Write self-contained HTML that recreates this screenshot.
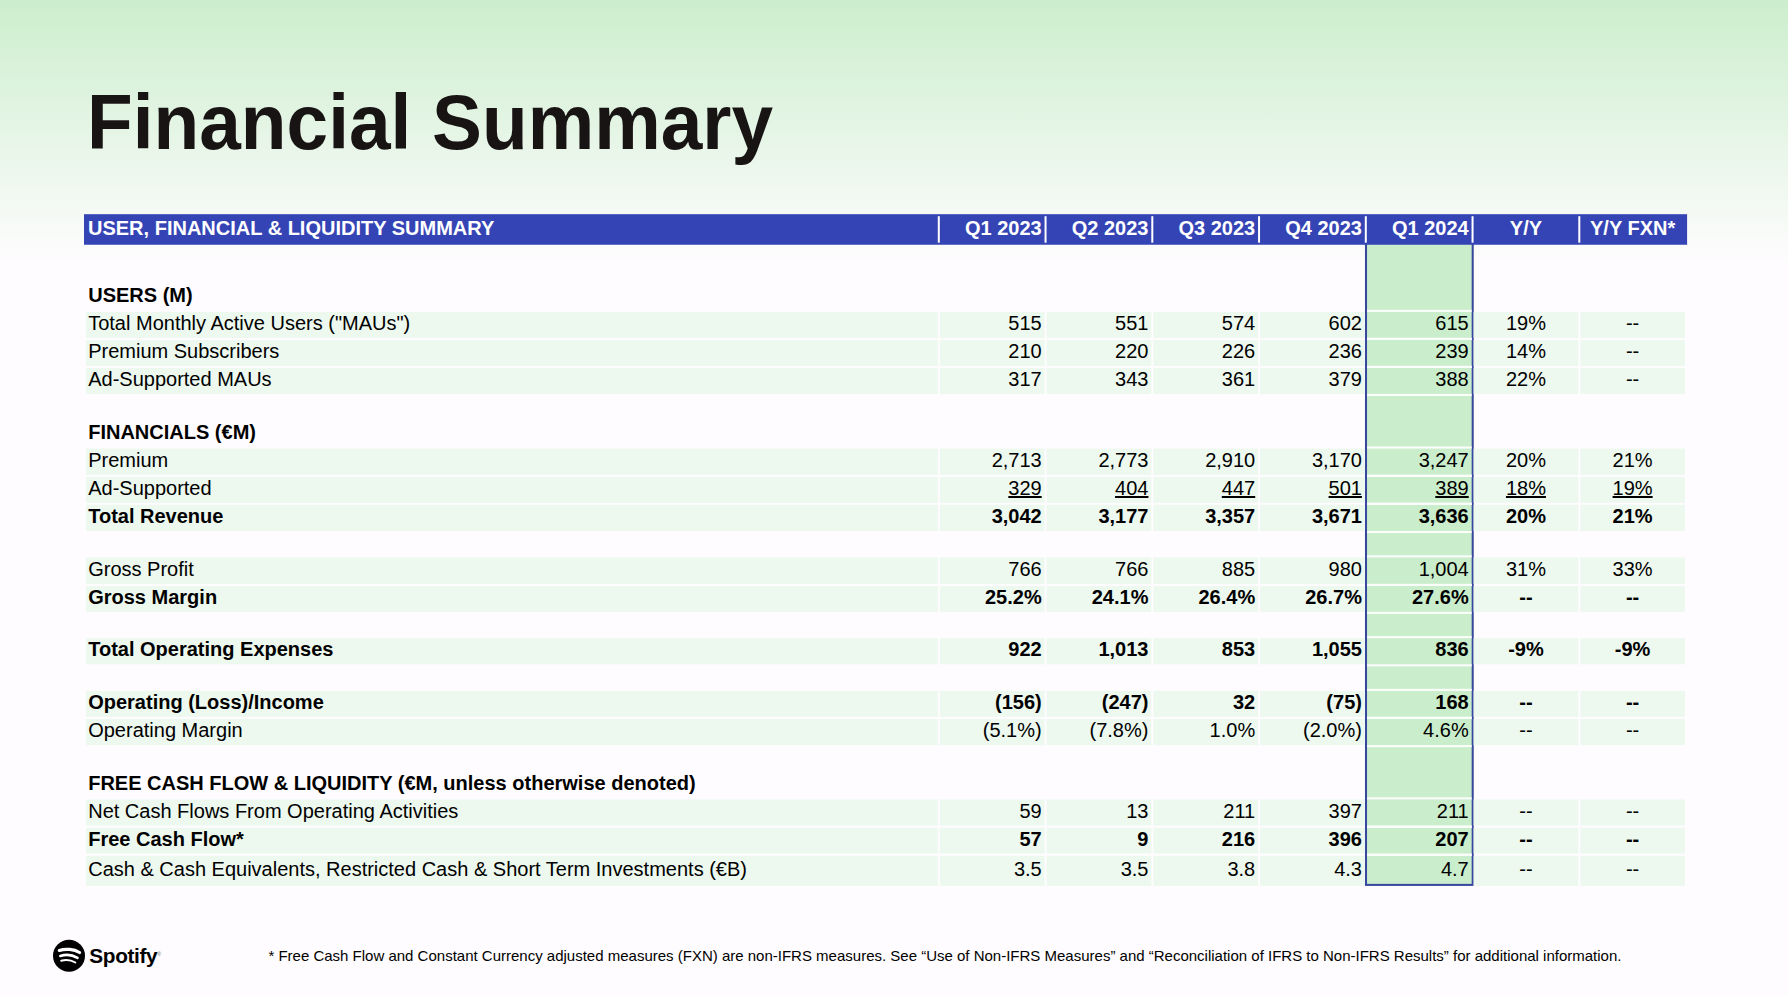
<!DOCTYPE html>
<html lang="en">
<head>
<meta charset="utf-8">
<title>Financial Summary</title>
<style>
html,body{margin:0;padding:0}
body{width:1788px;height:996px;position:relative;overflow:hidden;background:#fefcfe;font-family:"Liberation Sans",Arial,sans-serif;color:#000}
#art{position:absolute;left:0;top:0;width:1788px;height:996px}
h1{position:absolute;left:87.1px;top:80.4px;margin:0;font-size:74.8px;line-height:86px;font-weight:bold;color:#191414;white-space:nowrap;transform-origin:0 68px;transform:scaleY(1.045)}
.t{position:absolute;font-size:20px;line-height:22px;height:22px;white-space:nowrap}
.l{left:88.2px}
.n{text-align:right}
.m{text-align:center}
.b{font-weight:bold}
.w{color:#fff;font-weight:bold}
.u{text-decoration:underline;text-decoration-thickness:2px;text-underline-offset:1px;text-decoration-skip-ink:none}
.foot{position:absolute;left:268.4px;top:947px;font-size:15px;line-height:17px;white-space:nowrap;color:#000}
.logot{position:absolute;left:89.3px;top:943.9px;font-size:20.8px;line-height:23px;font-weight:bold;letter-spacing:-0.35px;color:#000;white-space:nowrap}
.reg{position:absolute;left:157.3px;top:952px;font-size:5px;line-height:5px;color:#666}
</style>
</head>
<body>
<svg id="art" viewBox="0 0 1788 996" width="1788" height="996">
<defs><linearGradient id="gr" x1="0" y1="0" x2="0" y2="1"><stop offset="0" stop-color="#cceecd"/><stop offset="1" stop-color="#fefcfe"/></linearGradient></defs>
<rect x="0" y="0" width="1788" height="262" fill="url(#gr)"/>
<rect x="1366" y="240" width="106.7" height="644.9" fill="#caedcb" stroke="#38489e" stroke-width="2.05"/>
<rect x="1367.03" y="309.8" width="104.65" height="2.1" fill="#fbfdfb"/>
<rect x="1367.03" y="337.9" width="104.65" height="2.1" fill="#fbfdfb"/>
<rect x="86" y="311.9" width="851.85" height="26" fill="#edf8ee"/>
<rect x="939.85" y="311.9" width="104.75" height="26" fill="#edf8ee"/>
<rect x="1046.6" y="311.9" width="104.75" height="26" fill="#edf8ee"/>
<rect x="1153.35" y="311.9" width="104.75" height="26" fill="#edf8ee"/>
<rect x="1260.1" y="311.9" width="104.75" height="26" fill="#edf8ee"/>
<rect x="1473.6" y="311.9" width="104.75" height="26" fill="#edf8ee"/>
<rect x="1580.35" y="311.9" width="104.55" height="26" fill="#edf8ee"/>
<rect x="1367.03" y="337.8" width="104.65" height="2.1" fill="#fbfdfb"/>
<rect x="1367.03" y="365.9" width="104.65" height="2.1" fill="#fbfdfb"/>
<rect x="86" y="339.9" width="851.85" height="26" fill="#edf8ee"/>
<rect x="939.85" y="339.9" width="104.75" height="26" fill="#edf8ee"/>
<rect x="1046.6" y="339.9" width="104.75" height="26" fill="#edf8ee"/>
<rect x="1153.35" y="339.9" width="104.75" height="26" fill="#edf8ee"/>
<rect x="1260.1" y="339.9" width="104.75" height="26" fill="#edf8ee"/>
<rect x="1473.6" y="339.9" width="104.75" height="26" fill="#edf8ee"/>
<rect x="1580.35" y="339.9" width="104.55" height="26" fill="#edf8ee"/>
<rect x="1367.03" y="365.8" width="104.65" height="2.1" fill="#fbfdfb"/>
<rect x="1367.03" y="393.9" width="104.65" height="2.1" fill="#fbfdfb"/>
<rect x="86" y="367.9" width="851.85" height="26" fill="#edf8ee"/>
<rect x="939.85" y="367.9" width="104.75" height="26" fill="#edf8ee"/>
<rect x="1046.6" y="367.9" width="104.75" height="26" fill="#edf8ee"/>
<rect x="1153.35" y="367.9" width="104.75" height="26" fill="#edf8ee"/>
<rect x="1260.1" y="367.9" width="104.75" height="26" fill="#edf8ee"/>
<rect x="1473.6" y="367.9" width="104.75" height="26" fill="#edf8ee"/>
<rect x="1580.35" y="367.9" width="104.55" height="26" fill="#edf8ee"/>
<rect x="1367.03" y="446.5" width="104.65" height="2.1" fill="#fbfdfb"/>
<rect x="1367.03" y="474.8" width="104.65" height="2.1" fill="#fbfdfb"/>
<rect x="86" y="448.6" width="851.85" height="26.2" fill="#edf8ee"/>
<rect x="939.85" y="448.6" width="104.75" height="26.2" fill="#edf8ee"/>
<rect x="1046.6" y="448.6" width="104.75" height="26.2" fill="#edf8ee"/>
<rect x="1153.35" y="448.6" width="104.75" height="26.2" fill="#edf8ee"/>
<rect x="1260.1" y="448.6" width="104.75" height="26.2" fill="#edf8ee"/>
<rect x="1473.6" y="448.6" width="104.75" height="26.2" fill="#edf8ee"/>
<rect x="1580.35" y="448.6" width="104.55" height="26.2" fill="#edf8ee"/>
<rect x="1367.03" y="474.7" width="104.65" height="2.1" fill="#fbfdfb"/>
<rect x="1367.03" y="502.8" width="104.65" height="2.1" fill="#fbfdfb"/>
<rect x="86" y="476.8" width="851.85" height="26" fill="#edf8ee"/>
<rect x="939.85" y="476.8" width="104.75" height="26" fill="#edf8ee"/>
<rect x="1046.6" y="476.8" width="104.75" height="26" fill="#edf8ee"/>
<rect x="1153.35" y="476.8" width="104.75" height="26" fill="#edf8ee"/>
<rect x="1260.1" y="476.8" width="104.75" height="26" fill="#edf8ee"/>
<rect x="1473.6" y="476.8" width="104.75" height="26" fill="#edf8ee"/>
<rect x="1580.35" y="476.8" width="104.55" height="26" fill="#edf8ee"/>
<rect x="1367.03" y="502.7" width="104.65" height="2.1" fill="#fbfdfb"/>
<rect x="1367.03" y="531" width="104.65" height="2.1" fill="#fbfdfb"/>
<rect x="86" y="504.8" width="851.85" height="26.2" fill="#edf8ee"/>
<rect x="939.85" y="504.8" width="104.75" height="26.2" fill="#edf8ee"/>
<rect x="1046.6" y="504.8" width="104.75" height="26.2" fill="#edf8ee"/>
<rect x="1153.35" y="504.8" width="104.75" height="26.2" fill="#edf8ee"/>
<rect x="1260.1" y="504.8" width="104.75" height="26.2" fill="#edf8ee"/>
<rect x="1473.6" y="504.8" width="104.75" height="26.2" fill="#edf8ee"/>
<rect x="1580.35" y="504.8" width="104.55" height="26.2" fill="#edf8ee"/>
<rect x="1367.03" y="555.3" width="104.65" height="2.1" fill="#fbfdfb"/>
<rect x="1367.03" y="583.9" width="104.65" height="2.1" fill="#fbfdfb"/>
<rect x="86" y="557.4" width="851.85" height="26.5" fill="#edf8ee"/>
<rect x="939.85" y="557.4" width="104.75" height="26.5" fill="#edf8ee"/>
<rect x="1046.6" y="557.4" width="104.75" height="26.5" fill="#edf8ee"/>
<rect x="1153.35" y="557.4" width="104.75" height="26.5" fill="#edf8ee"/>
<rect x="1260.1" y="557.4" width="104.75" height="26.5" fill="#edf8ee"/>
<rect x="1473.6" y="557.4" width="104.75" height="26.5" fill="#edf8ee"/>
<rect x="1580.35" y="557.4" width="104.55" height="26.5" fill="#edf8ee"/>
<rect x="1367.03" y="583.9" width="104.65" height="2.1" fill="#fbfdfb"/>
<rect x="1367.03" y="611.8" width="104.65" height="2.1" fill="#fbfdfb"/>
<rect x="86" y="586" width="851.85" height="25.8" fill="#edf8ee"/>
<rect x="939.85" y="586" width="104.75" height="25.8" fill="#edf8ee"/>
<rect x="1046.6" y="586" width="104.75" height="25.8" fill="#edf8ee"/>
<rect x="1153.35" y="586" width="104.75" height="25.8" fill="#edf8ee"/>
<rect x="1260.1" y="586" width="104.75" height="25.8" fill="#edf8ee"/>
<rect x="1473.6" y="586" width="104.75" height="25.8" fill="#edf8ee"/>
<rect x="1580.35" y="586" width="104.55" height="25.8" fill="#edf8ee"/>
<rect x="1367.03" y="636.1" width="104.65" height="2.1" fill="#fbfdfb"/>
<rect x="1367.03" y="664.3" width="104.65" height="2.1" fill="#fbfdfb"/>
<rect x="86" y="638.2" width="851.85" height="26.1" fill="#edf8ee"/>
<rect x="939.85" y="638.2" width="104.75" height="26.1" fill="#edf8ee"/>
<rect x="1046.6" y="638.2" width="104.75" height="26.1" fill="#edf8ee"/>
<rect x="1153.35" y="638.2" width="104.75" height="26.1" fill="#edf8ee"/>
<rect x="1260.1" y="638.2" width="104.75" height="26.1" fill="#edf8ee"/>
<rect x="1473.6" y="638.2" width="104.75" height="26.1" fill="#edf8ee"/>
<rect x="1580.35" y="638.2" width="104.55" height="26.1" fill="#edf8ee"/>
<rect x="1367.03" y="688.8" width="104.65" height="2.1" fill="#fbfdfb"/>
<rect x="1367.03" y="716.8" width="104.65" height="2.1" fill="#fbfdfb"/>
<rect x="86" y="690.9" width="851.85" height="25.9" fill="#edf8ee"/>
<rect x="939.85" y="690.9" width="104.75" height="25.9" fill="#edf8ee"/>
<rect x="1046.6" y="690.9" width="104.75" height="25.9" fill="#edf8ee"/>
<rect x="1153.35" y="690.9" width="104.75" height="25.9" fill="#edf8ee"/>
<rect x="1260.1" y="690.9" width="104.75" height="25.9" fill="#edf8ee"/>
<rect x="1473.6" y="690.9" width="104.75" height="25.9" fill="#edf8ee"/>
<rect x="1580.35" y="690.9" width="104.55" height="25.9" fill="#edf8ee"/>
<rect x="1367.03" y="716.8" width="104.65" height="2.1" fill="#fbfdfb"/>
<rect x="1367.03" y="745.1" width="104.65" height="2.1" fill="#fbfdfb"/>
<rect x="86" y="718.9" width="851.85" height="26.2" fill="#edf8ee"/>
<rect x="939.85" y="718.9" width="104.75" height="26.2" fill="#edf8ee"/>
<rect x="1046.6" y="718.9" width="104.75" height="26.2" fill="#edf8ee"/>
<rect x="1153.35" y="718.9" width="104.75" height="26.2" fill="#edf8ee"/>
<rect x="1260.1" y="718.9" width="104.75" height="26.2" fill="#edf8ee"/>
<rect x="1473.6" y="718.9" width="104.75" height="26.2" fill="#edf8ee"/>
<rect x="1580.35" y="718.9" width="104.55" height="26.2" fill="#edf8ee"/>
<rect x="1367.03" y="797.3" width="104.65" height="2.1" fill="#fbfdfb"/>
<rect x="1367.03" y="825.6" width="104.65" height="2.1" fill="#fbfdfb"/>
<rect x="86" y="799.4" width="851.85" height="26.2" fill="#edf8ee"/>
<rect x="939.85" y="799.4" width="104.75" height="26.2" fill="#edf8ee"/>
<rect x="1046.6" y="799.4" width="104.75" height="26.2" fill="#edf8ee"/>
<rect x="1153.35" y="799.4" width="104.75" height="26.2" fill="#edf8ee"/>
<rect x="1260.1" y="799.4" width="104.75" height="26.2" fill="#edf8ee"/>
<rect x="1473.6" y="799.4" width="104.75" height="26.2" fill="#edf8ee"/>
<rect x="1580.35" y="799.4" width="104.55" height="26.2" fill="#edf8ee"/>
<rect x="1367.03" y="825.7" width="104.65" height="2.1" fill="#fbfdfb"/>
<rect x="1367.03" y="853.6" width="104.65" height="2.1" fill="#fbfdfb"/>
<rect x="86" y="827.8" width="851.85" height="25.8" fill="#edf8ee"/>
<rect x="939.85" y="827.8" width="104.75" height="25.8" fill="#edf8ee"/>
<rect x="1046.6" y="827.8" width="104.75" height="25.8" fill="#edf8ee"/>
<rect x="1153.35" y="827.8" width="104.75" height="25.8" fill="#edf8ee"/>
<rect x="1260.1" y="827.8" width="104.75" height="25.8" fill="#edf8ee"/>
<rect x="1473.6" y="827.8" width="104.75" height="25.8" fill="#edf8ee"/>
<rect x="1580.35" y="827.8" width="104.55" height="25.8" fill="#edf8ee"/>
<rect x="1367.03" y="853.8" width="104.65" height="2.1" fill="#fbfdfb"/>
<rect x="86" y="855.9" width="851.85" height="30.1" fill="#edf8ee"/>
<rect x="939.85" y="855.9" width="104.75" height="30.1" fill="#edf8ee"/>
<rect x="1046.6" y="855.9" width="104.75" height="30.1" fill="#edf8ee"/>
<rect x="1153.35" y="855.9" width="104.75" height="30.1" fill="#edf8ee"/>
<rect x="1260.1" y="855.9" width="104.75" height="30.1" fill="#edf8ee"/>
<rect x="1473.6" y="855.9" width="104.75" height="30.1" fill="#edf8ee"/>
<rect x="1580.35" y="855.9" width="104.55" height="30.1" fill="#edf8ee"/>
<rect x="84" y="214.2" width="1603.1" height="30.55" fill="#3544b5"/>
<rect x="937.8" y="216.2" width="2" height="26.5" fill="#fff"/>
<rect x="1044.55" y="216.2" width="2" height="26.5" fill="#fff"/>
<rect x="1151.3" y="216.2" width="2" height="26.5" fill="#fff"/>
<rect x="1258.05" y="216.2" width="2" height="26.5" fill="#fff"/>
<rect x="1364.8" y="216.2" width="2" height="26.5" fill="#fff"/>
<rect x="1471.55" y="216.2" width="2" height="26.5" fill="#fff"/>
<rect x="1578.3" y="216.2" width="2" height="26.5" fill="#fff"/>
<circle cx="69" cy="955.7" r="16" fill="#000"/>
<path d="M59.3 950.4 C65.5 948.4 74 949.1 79.6 952.5" fill="none" stroke="#fff" stroke-width="3.2" stroke-linecap="round"/>
<path d="M60.3 955.9 C65.6 954.3 72.6 954.9 77.5 957.8" fill="none" stroke="#fff" stroke-width="2.6" stroke-linecap="round"/>
<path d="M61.2 960.7 C65.6 959.5 71 959.9 75.3 962.5" fill="none" stroke="#fff" stroke-width="2" stroke-linecap="round"/>
</svg>
<h1>Financial Summary</h1>
<div class="t w" style="left:88px;top:217.37px">USER, FINANCIAL &amp; LIQUIDITY SUMMARY</div>
<div class="t w n" style="left:939.85px;width:101.85px;top:217.37px">Q1 2023</div>
<div class="t w n" style="left:1046.6px;width:101.85px;top:217.37px">Q2 2023</div>
<div class="t w n" style="left:1153.35px;width:101.85px;top:217.37px">Q3 2023</div>
<div class="t w n" style="left:1260.1px;width:101.85px;top:217.37px">Q4 2023</div>
<div class="t w n" style="left:1366.85px;width:101.85px;top:217.37px">Q1 2024</div>
<div class="t w m" style="left:1473.6px;width:104.75px;top:217.37px">Y/Y</div>
<div class="t w m" style="left:1580.35px;width:104.55px;top:217.37px">Y/Y FXN*</div>
<div class="t l b" style="top:284.07px">USERS (M)</div>
<div class="t l b" style="top:421.07px">FINANCIALS (€M)</div>
<div class="t l b" style="top:772.07px">FREE CASH FLOW &amp; LIQUIDITY (€M, unless otherwise denoted)</div>
<div class="t l" style="top:312.07px">Total Monthly Active Users ("MAUs")</div>
<div class="t n" style="left:939.85px;width:101.85px;top:312.07px">515</div>
<div class="t n" style="left:1046.6px;width:101.85px;top:312.07px">551</div>
<div class="t n" style="left:1153.35px;width:101.85px;top:312.07px">574</div>
<div class="t n" style="left:1260.1px;width:101.85px;top:312.07px">602</div>
<div class="t n" style="left:1366.85px;width:101.85px;top:312.07px">615</div>
<div class="t m" style="left:1473.6px;width:104.75px;top:312.07px">19%</div>
<div class="t m" style="left:1580.35px;width:104.55px;top:312.07px">--</div>
<div class="t l" style="top:340.07px">Premium Subscribers</div>
<div class="t n" style="left:939.85px;width:101.85px;top:340.07px">210</div>
<div class="t n" style="left:1046.6px;width:101.85px;top:340.07px">220</div>
<div class="t n" style="left:1153.35px;width:101.85px;top:340.07px">226</div>
<div class="t n" style="left:1260.1px;width:101.85px;top:340.07px">236</div>
<div class="t n" style="left:1366.85px;width:101.85px;top:340.07px">239</div>
<div class="t m" style="left:1473.6px;width:104.75px;top:340.07px">14%</div>
<div class="t m" style="left:1580.35px;width:104.55px;top:340.07px">--</div>
<div class="t l" style="top:368.07px">Ad-Supported MAUs</div>
<div class="t n" style="left:939.85px;width:101.85px;top:368.07px">317</div>
<div class="t n" style="left:1046.6px;width:101.85px;top:368.07px">343</div>
<div class="t n" style="left:1153.35px;width:101.85px;top:368.07px">361</div>
<div class="t n" style="left:1260.1px;width:101.85px;top:368.07px">379</div>
<div class="t n" style="left:1366.85px;width:101.85px;top:368.07px">388</div>
<div class="t m" style="left:1473.6px;width:104.75px;top:368.07px">22%</div>
<div class="t m" style="left:1580.35px;width:104.55px;top:368.07px">--</div>
<div class="t l" style="top:448.77px">Premium</div>
<div class="t n" style="left:939.85px;width:101.85px;top:448.77px">2,713</div>
<div class="t n" style="left:1046.6px;width:101.85px;top:448.77px">2,773</div>
<div class="t n" style="left:1153.35px;width:101.85px;top:448.77px">2,910</div>
<div class="t n" style="left:1260.1px;width:101.85px;top:448.77px">3,170</div>
<div class="t n" style="left:1366.85px;width:101.85px;top:448.77px">3,247</div>
<div class="t m" style="left:1473.6px;width:104.75px;top:448.77px">20%</div>
<div class="t m" style="left:1580.35px;width:104.55px;top:448.77px">21%</div>
<div class="t l" style="top:476.97px">Ad-Supported</div>
<div class="t n" style="left:939.85px;width:101.85px;top:476.97px"><span class="u">329</span></div>
<div class="t n" style="left:1046.6px;width:101.85px;top:476.97px"><span class="u">404</span></div>
<div class="t n" style="left:1153.35px;width:101.85px;top:476.97px"><span class="u">447</span></div>
<div class="t n" style="left:1260.1px;width:101.85px;top:476.97px"><span class="u">501</span></div>
<div class="t n" style="left:1366.85px;width:101.85px;top:476.97px"><span class="u">389</span></div>
<div class="t m" style="left:1473.6px;width:104.75px;top:476.97px"><span class="u">18%</span></div>
<div class="t m" style="left:1580.35px;width:104.55px;top:476.97px"><span class="u">19%</span></div>
<div class="t l b" style="top:504.97px">Total Revenue</div>
<div class="t n b" style="left:939.85px;width:101.85px;top:504.97px">3,042</div>
<div class="t n b" style="left:1046.6px;width:101.85px;top:504.97px">3,177</div>
<div class="t n b" style="left:1153.35px;width:101.85px;top:504.97px">3,357</div>
<div class="t n b" style="left:1260.1px;width:101.85px;top:504.97px">3,671</div>
<div class="t n b" style="left:1366.85px;width:101.85px;top:504.97px">3,636</div>
<div class="t m b" style="left:1473.6px;width:104.75px;top:504.97px">20%</div>
<div class="t m b" style="left:1580.35px;width:104.55px;top:504.97px">21%</div>
<div class="t l" style="top:557.57px">Gross Profit</div>
<div class="t n" style="left:939.85px;width:101.85px;top:557.57px">766</div>
<div class="t n" style="left:1046.6px;width:101.85px;top:557.57px">766</div>
<div class="t n" style="left:1153.35px;width:101.85px;top:557.57px">885</div>
<div class="t n" style="left:1260.1px;width:101.85px;top:557.57px">980</div>
<div class="t n" style="left:1366.85px;width:101.85px;top:557.57px">1,004</div>
<div class="t m" style="left:1473.6px;width:104.75px;top:557.57px">31%</div>
<div class="t m" style="left:1580.35px;width:104.55px;top:557.57px">33%</div>
<div class="t l b" style="top:586.17px">Gross Margin</div>
<div class="t n b" style="left:939.85px;width:101.85px;top:586.17px">25.2%</div>
<div class="t n b" style="left:1046.6px;width:101.85px;top:586.17px">24.1%</div>
<div class="t n b" style="left:1153.35px;width:101.85px;top:586.17px">26.4%</div>
<div class="t n b" style="left:1260.1px;width:101.85px;top:586.17px">26.7%</div>
<div class="t n b" style="left:1366.85px;width:101.85px;top:586.17px">27.6%</div>
<div class="t m b" style="left:1473.6px;width:104.75px;top:586.17px">--</div>
<div class="t m b" style="left:1580.35px;width:104.55px;top:586.17px">--</div>
<div class="t l b" style="top:638.37px">Total Operating Expenses</div>
<div class="t n b" style="left:939.85px;width:101.85px;top:638.37px">922</div>
<div class="t n b" style="left:1046.6px;width:101.85px;top:638.37px">1,013</div>
<div class="t n b" style="left:1153.35px;width:101.85px;top:638.37px">853</div>
<div class="t n b" style="left:1260.1px;width:101.85px;top:638.37px">1,055</div>
<div class="t n b" style="left:1366.85px;width:101.85px;top:638.37px">836</div>
<div class="t m b" style="left:1473.6px;width:104.75px;top:638.37px">-9%</div>
<div class="t m b" style="left:1580.35px;width:104.55px;top:638.37px">-9%</div>
<div class="t l b" style="top:691.07px">Operating (Loss)/Income</div>
<div class="t n b" style="left:939.85px;width:101.85px;top:691.07px">(156)</div>
<div class="t n b" style="left:1046.6px;width:101.85px;top:691.07px">(247)</div>
<div class="t n b" style="left:1153.35px;width:101.85px;top:691.07px">32</div>
<div class="t n b" style="left:1260.1px;width:101.85px;top:691.07px">(75)</div>
<div class="t n b" style="left:1366.85px;width:101.85px;top:691.07px">168</div>
<div class="t m b" style="left:1473.6px;width:104.75px;top:691.07px">--</div>
<div class="t m b" style="left:1580.35px;width:104.55px;top:691.07px">--</div>
<div class="t l" style="top:719.07px">Operating Margin</div>
<div class="t n" style="left:939.85px;width:101.85px;top:719.07px">(5.1%)</div>
<div class="t n" style="left:1046.6px;width:101.85px;top:719.07px">(7.8%)</div>
<div class="t n" style="left:1153.35px;width:101.85px;top:719.07px">1.0%</div>
<div class="t n" style="left:1260.1px;width:101.85px;top:719.07px">(2.0%)</div>
<div class="t n" style="left:1366.85px;width:101.85px;top:719.07px">4.6%</div>
<div class="t m" style="left:1473.6px;width:104.75px;top:719.07px">--</div>
<div class="t m" style="left:1580.35px;width:104.55px;top:719.07px">--</div>
<div class="t l" style="top:799.57px">Net Cash Flows From Operating Activities</div>
<div class="t n" style="left:939.85px;width:101.85px;top:799.57px">59</div>
<div class="t n" style="left:1046.6px;width:101.85px;top:799.57px">13</div>
<div class="t n" style="left:1153.35px;width:101.85px;top:799.57px">211</div>
<div class="t n" style="left:1260.1px;width:101.85px;top:799.57px">397</div>
<div class="t n" style="left:1366.85px;width:101.85px;top:799.57px">211</div>
<div class="t m" style="left:1473.6px;width:104.75px;top:799.57px">--</div>
<div class="t m" style="left:1580.35px;width:104.55px;top:799.57px">--</div>
<div class="t l b" style="top:827.97px">Free Cash Flow*</div>
<div class="t n b" style="left:939.85px;width:101.85px;top:827.97px">57</div>
<div class="t n b" style="left:1046.6px;width:101.85px;top:827.97px">9</div>
<div class="t n b" style="left:1153.35px;width:101.85px;top:827.97px">216</div>
<div class="t n b" style="left:1260.1px;width:101.85px;top:827.97px">396</div>
<div class="t n b" style="left:1366.85px;width:101.85px;top:827.97px">207</div>
<div class="t m b" style="left:1473.6px;width:104.75px;top:827.97px">--</div>
<div class="t m b" style="left:1580.35px;width:104.55px;top:827.97px">--</div>
<div class="t l" style="top:857.77px">Cash &amp; Cash Equivalents, Restricted Cash &amp; Short Term Investments (€B)</div>
<div class="t n" style="left:939.85px;width:101.85px;top:857.77px">3.5</div>
<div class="t n" style="left:1046.6px;width:101.85px;top:857.77px">3.5</div>
<div class="t n" style="left:1153.35px;width:101.85px;top:857.77px">3.8</div>
<div class="t n" style="left:1260.1px;width:101.85px;top:857.77px">4.3</div>
<div class="t n" style="left:1366.85px;width:101.85px;top:857.77px">4.7</div>
<div class="t m" style="left:1473.6px;width:104.75px;top:857.77px">--</div>
<div class="t m" style="left:1580.35px;width:104.55px;top:857.77px">--</div>
<div class="logot">Spotify</div>
<div class="reg">®</div>
<div class="foot">* Free Cash Flow and Constant Currency adjusted measures (FXN) are non-IFRS measures. See “Use of Non-IFRS Measures” and “Reconciliation of IFRS to Non-IFRS Results” for additional information.</div>
</body>
</html>
